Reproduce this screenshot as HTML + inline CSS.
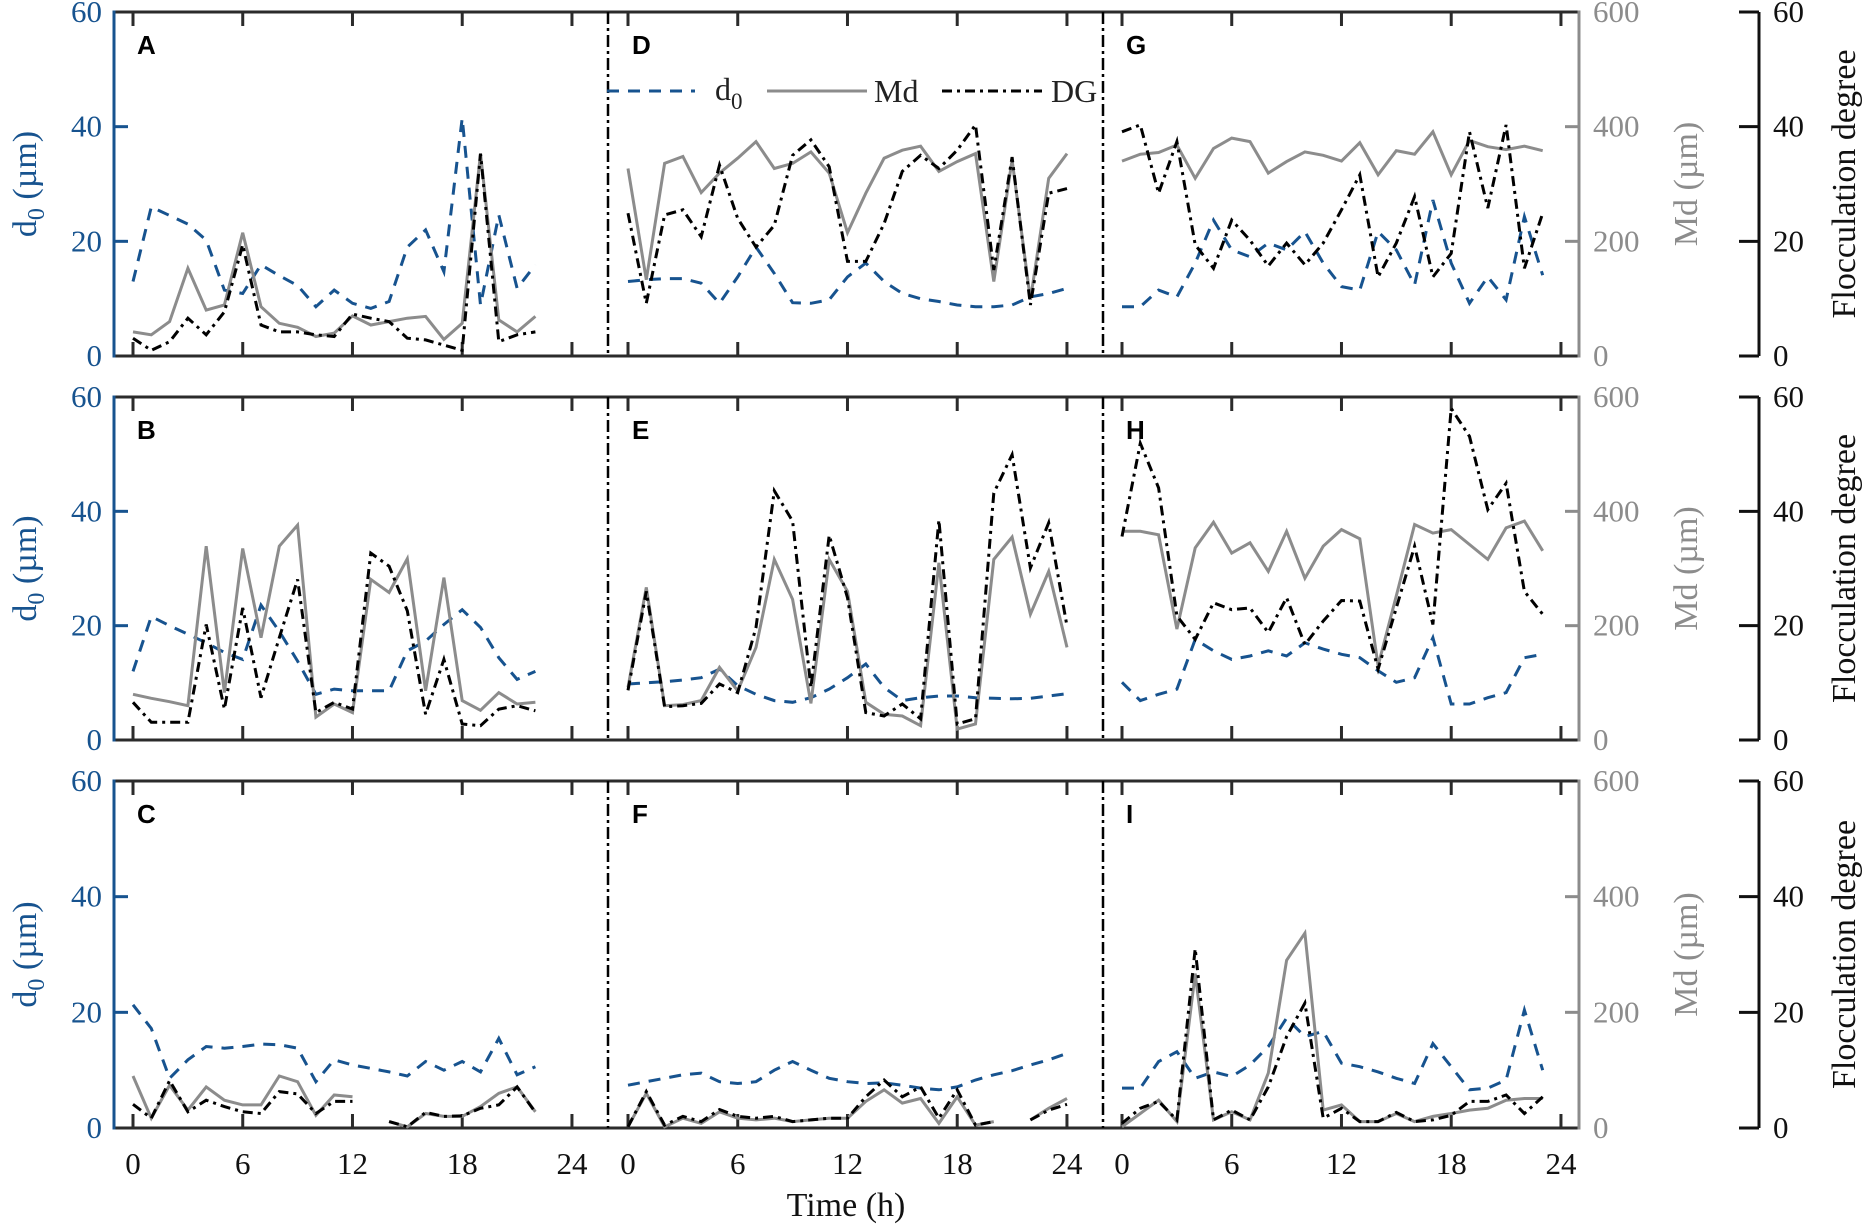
<!DOCTYPE html>
<html><head><meta charset="utf-8"><style>
html,body{margin:0;padding:0;background:#fff;}
svg{display:block;}
svg text{font-family:"Liberation Serif",serif;}
</style></head><body>
<svg id="chart" width="1869" height="1228" viewBox="0 0 1869 1228" xmlns="http://www.w3.org/2000/svg" font-family="Liberation Serif, serif"></svg>
<script>
// ---- data (index = hour) ----
const xTicks = [0, 6, 12, 18, 24];
const d0Ticks = [0, 20, 40, 60];
const mdTicks = [0, 200, 400, 600];
const fdTicks = [0, 20, 40, 60];
const panelLabels = ["A","D","G","B","E","H","C","F","I"];

const d0A = [13,26,24.5,23,20.2,11.5,10.9,15.9,14,12.3,8.6,11.5,9.2,8.3,9.5,19,22,14.7,41.5,8.9,24.6,11.8,15.9];
const mdA = [42,37,60,153,80,89,215,86,57,50,34,40,70,54,60,66,69,29,57,353,63,42,69];
const dgA = [3.1,1,2.5,6.6,3.7,7.7,19.4,5.4,4.2,4.2,3.7,3.4,7.3,6.6,6,3.1,2.8,1.9,1,35.3,2.5,3.7,4.2];

const d0D = [13,13.3,13.5,13.5,12.7,9.2,13.8,19,14.4,9.3,9.2,9.8,13.8,16.2,13,10.9,10,9.5,8.9,8.6,8.6,8.9,10.3,10.9,11.8];
const mdD = [327,133,336,348,285,319,345,374,327,336,356,319,215,284,345,359,366,322,339,353,130,342,98,310,353];
const dgD = [24.9,9.2,24.6,25.5,20.8,33.3,24,19,22.8,35,37.7,33,16.5,16.5,23.1,32.2,35,32.7,35.9,40.3,15,34.7,8.9,28.4,29.2];

const d0G = [8.6,8.6,11.5,10.3,16.2,23.7,18.5,17.3,19.7,18.5,21.7,16.2,12.1,11.5,21.7,18.5,12.4,27.2,16.2,9.2,13.8,9.8,24.3,14.1];
const mdG = [340,352,355,368,310,362,380,374,319,339,356,350,340,372,316,358,352,391,316,376,365,360,366,358];
const dgG = [39.1,40.3,28.4,37.4,19.4,15.3,23.7,20.2,15.7,19.7,15.9,19.7,25.5,31.6,13.8,19.7,27.8,13.8,17.9,39.1,25.8,40.3,15.3,24.9];

const d0B = [12,21.6,20,18.5,17,15.3,14.1,23.6,19,13.8,8,8.9,8.6,8.6,8.6,15.6,17.3,20.2,22.8,19.7,14.4,10.6,12];
const mdB = [80,73,67,60,339,83,335,179,339,376,40,63,48,281,258,317,86,284,69,52,83,63,66];
const dgB = [6.6,3.1,3.1,3.1,20.2,5.4,23.1,7.4,17.9,28.1,4.8,6.6,5.4,32.7,30.4,22.6,4.5,14.1,2.8,2.5,5.4,6,5.1];

const d0E = [9.8,10,10.2,10.5,10.9,12.4,9.5,8,6.9,6.6,7.4,8.9,10.9,13.3,9.2,6.9,7.4,7.7,7.7,7.4,7.3,7.2,7.3,7.7,8.1];
const mdE = [92,267,60,62,69,127,86,162,316,246,64,316,260,66,45,42,25,310,19,28,316,355,220,295,162];
const dgE = [8.7,26,5.8,6,6.4,9.8,8.3,19.7,43.6,38.3,9.2,35.8,24.9,4.8,4.2,6.3,3.7,38.5,2.8,3.7,43.2,49.9,30.1,38,19.9];

const d0H = [10.1,6.9,8,8.9,17.6,15.6,14.1,14.7,15.6,14.7,17,15.9,15,14.4,12.1,10.1,10.9,17.9,6.3,6.3,7.4,8.3,14.4,15];
const mdH = [365,365,359,194,336,381,327,345,295,365,283,339,368,352,130,252,377,362,368,342,316,371,383,331];
const dgH = [35.6,51.9,44.1,21.7,17.6,24,22.8,23.1,18.8,24.9,16.7,20.8,24.4,24.3,12.4,23.1,33.9,20.2,58,53.1,40.3,44.9,26,22];

const d0C = [21.3,17.2,8.6,11.8,14.1,13.8,14.1,14.5,14.4,13.8,8,11.8,10.9,10.3,9.7,9,11.5,10,11.5,9.7,15.5,9.2,10.6];
const mdC = [90,17,74,31,71,48,40,40,90,80,22,57,54,null,11,2,25,20,20,37,60,71,28];
const dgC = [4.1,1.7,8.2,2.8,4.8,3.7,2.8,2.5,6.3,5.9,2.5,4.6,4.6,null,1.1,0.2,2.7,2,2.1,3.4,4,7.1,2.7];

const d0F = [7.4,8,8.6,9.2,9.5,8,7.7,8,10,11.5,10,8.6,8,7.7,7.8,7.4,6.9,6.6,7.1,8.3,9.2,9.9,10.9,11.8,12.9];
const mdF = [2,60,2,17,8,28,17,14,17,11,14,17,17,46,66,43,51,8,54,5,11,null,14,34,51];
const dgF = [0.2,6.3,0.5,2,1.1,3.2,2,1.7,2,1.1,1.4,1.7,1.7,5.4,8.3,5.4,7.1,1.7,6.6,0.5,1.1,null,1.4,3.1,4.1];

const d0I = [6.9,6.9,11.5,13.2,8.6,9.7,8.9,10.9,14.1,19,15.8,16.7,11.2,10.6,9.7,8.6,7.7,14.6,10.6,6.6,6.9,8.3,20.4,10];
const mdI = [2,25,48,11,267,14,28,14,95,290,337,31,40,11,11,25,11,20,25,31,34,48,51,51];
const dgI = [0.8,3.4,4.6,1.4,31,1.4,3.1,1.4,7.1,15.8,21.6,1.7,3.4,1.1,1.1,2.7,1.1,1.4,2.2,4.6,4.6,5.7,2.5,5.4];

// ---- layout ----
const rowTop = [12, 397, 781];
const rowBot = [356, 740, 1128];
const colX0 = [133, 628, 1122];
const pxH = 18.29;
const axL = 114, axMd = 1579, axF = 1759;
const BLUE = "#17538f", GRAY = "#8c8c8c", DARK = "#2b2b2b";
const SERIF = "Liberation Serif, serif";
const svg = document.getElementById('chart');
const NS = "http://www.w3.org/2000/svg";
function mk(tag, attrs, parent){const e=document.createElementNS(NS,tag);for(const k in attrs)e.setAttribute(k,attrs[k]);if(tag==='text'&&!e.hasAttribute('font-family')&&!e.hasAttribute('style'))e.setAttribute('font-family',SERIF);(parent||svg).appendChild(e);return e;}
function xS(c,h){return colX0[c]+h*pxH;}
function yS(r,v,max){return rowBot[r]-(v/max)*(rowBot[r]-rowTop[r]);}
function pathFor(arr,c,r,max){let d="",pen=false;arr.forEach((v,i)=>{if(v===null||v===undefined){pen=false;return;}d+=(pen?"L":"M")+xS(c,i).toFixed(1)+","+yS(r,v,max).toFixed(1);pen=true;});return d;}

const panels = [
 [d0A,mdA,dgA],[d0D,mdD,dgD],[d0G,mdG,dgG],
 [d0B,mdB,dgB],[d0E,mdE,dgE],[d0H,mdH,dgH],
 [d0C,mdC,dgC],[d0F,mdF,dgF],[d0I,mdI,dgI]];

for(let r=0;r<3;r++){
  const t=rowTop[r], b=rowBot[r];
  const top=mk('line',{x1:axL,y1:t,x2:axMd,y2:t,stroke:DARK,'stroke-width':3});
  
  
  const bot=mk('line',{x1:axL,y1:b,x2:axMd,y2:b,stroke:DARK,'stroke-width':3});
  
  
  const la=mk('line',{x1:axL,y1:t-1.5,x2:axL,y2:b+1.5,stroke:BLUE,'stroke-width':3});
  
  
  const ra=mk('line',{x1:axMd,y1:t-1.5,x2:axMd,y2:b+1.5,stroke:GRAY,'stroke-width':3});
  
  
  for(let c=0;c<3;c++){
    xTicks.forEach(h=>{
      const x=xS(c,h);
      mk('line',{x1:x,y1:t,x2:x,y2:t+14,stroke:DARK,'stroke-width':3});
      mk('line',{x1:x,y1:b,x2:x,y2:b-14,stroke:DARK,'stroke-width':3});
      if(r===2){
        const tl=mk('text',{x:x,y:1174,'font-size':31,'text-anchor':'middle',fill:'#111'});
        tl.textContent=h;
        
        
      }
    });
  }
  [608,1103].forEach(x=>{
    const dv=mk('line',{x1:x,y1:t,x2:x,y2:b,stroke:'#000','stroke-width':2.5,'stroke-dasharray':'12,4,3,4'});
    
    
  });
  d0Ticks.forEach(v=>{
    const y=yS(r,v,60);
    if(v>0&&v<60) mk('line',{x1:axL,y1:y,x2:axL+14,y2:y,stroke:BLUE,'stroke-width':3});
    const tl=mk('text',{x:102,y:y+10,'font-size':31,'text-anchor':'end',fill:BLUE});
    tl.textContent=v;
    
    
  });
  mdTicks.forEach(v=>{
    const y=yS(r,v,600);
    if(v>0&&v<600) mk('line',{x1:axMd,y1:y,x2:axMd-14,y2:y,stroke:GRAY,'stroke-width':3});
    const tl=mk('text',{x:1593,y:y+10,'font-size':31,fill:GRAY});
    tl.textContent=v;
    
    
  });
  const fa=mk('line',{x1:axF,y1:t,x2:axF,y2:b,stroke:'#111','stroke-width':3});
  
  
  fdTicks.forEach(v=>{
    const y=yS(r,v,60);
    mk('line',{x1:axF,y1:y,x2:axF-20,y2:y,stroke:'#111','stroke-width':3});
    const tl=mk('text',{x:1773,y:y+10,'font-size':31,fill:'#111'});
    tl.textContent=v;
    
    
  });
  const cy=(t+b)/2;
  const yl=mk('text',{x:0,y:0,'font-size':34,'text-anchor':'middle',fill:BLUE,transform:`translate(36,${cy}) rotate(-90)`});
  yl.innerHTML='d<tspan font-size="24" dy="8">0</tspan><tspan dy="-8"> (µm)</tspan>';
  
  
  const ml=mk('text',{x:0,y:0,'font-size':34,'text-anchor':'middle',fill:GRAY,transform:`translate(1697,${cy}) rotate(-90)`});
  ml.textContent='Md (µm)';
  
  
  const fl=mk('text',{x:0,y:0,'font-size':34,'text-anchor':'middle',fill:'#111',transform:`translate(1855,${cy}) rotate(-90)`});
  fl.textContent='Flocculation degree';
  
  

  for(let c=0;c<3;c++){
    const p=panels[r*3+c];
    const g=mk('g',{});
    
    
    const l1=mk('path',{d:pathFor(p[0],c,r,60),fill:'none',stroke:BLUE,'stroke-width':3,'stroke-dasharray':'12,9'},g);
    
    
    const l2=mk('path',{d:pathFor(p[1],c,r,600),fill:'none',stroke:GRAY,'stroke-width':3},g);
    
    
    const l3=mk('path',{d:pathFor(p[2],c,r,60),fill:'none',stroke:'#000','stroke-width':3,'stroke-dasharray':'10,5,3,5'},g);
    
    
    const pl=mk('text',{x:colX0[c]+4,y:t+42,'font-size':26,'font-weight':'bold',fill:'#000',style:'font-family:"Liberation Sans",sans-serif'});
    pl.textContent=panelLabels[r*3+c];
    
    
  }
}
const xt=mk('text',{x:846,y:1216,'font-size':34,'text-anchor':'middle',fill:'#111'});
xt.textContent='Time (h)';


const lg=mk('g',{});


const le1=mk('line',{x1:607,y1:91,x2:695,y2:91,stroke:BLUE,'stroke-width':3,'stroke-dasharray':'12,9'},lg);


const lt1=mk('text',{x:715,y:100,'font-size':32,fill:'#222'},lg);
lt1.innerHTML='d<tspan font-size="23" dy="9">0</tspan>';


const le2=mk('line',{x1:767,y1:91,x2:867,y2:91,stroke:GRAY,'stroke-width':3},lg);


const lt2=mk('text',{x:874,y:102,'font-size':32,fill:'#222'},lg);
lt2.textContent='Md';


const le3=mk('line',{x1:942,y1:91,x2:1042,y2:91,stroke:'#000','stroke-width':3,'stroke-dasharray':'10,5,3,5'},lg);


const lt3=mk('text',{x:1051,y:102,'font-size':32,fill:'#222'},lg);
lt3.textContent='DG';


</script>
</body></html>
